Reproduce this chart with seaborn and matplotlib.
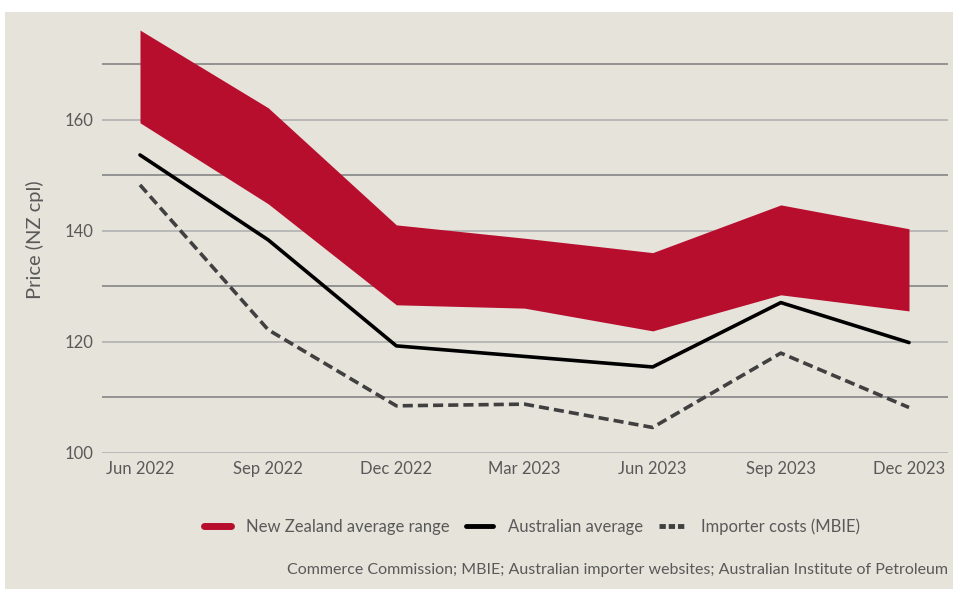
import matplotlib
matplotlib.use("Agg")
import matplotlib.pyplot as plt
import seaborn as sns
import pandas as pd
from matplotlib.lines import Line2D
from matplotlib.patches import Rectangle
from matplotlib.ticker import MultipleLocator

# --- data ---
quarters = ["Jun 2022", "Sep 2022", "Dec 2022", "Mar 2023", "Jun 2023", "Sep 2023", "Dec 2023"]
nz_upper = [176.2, 162.2, 141.1, 138.7, 136.1, 144.7, 140.4]
nz_lower = [159.5, 144.9, 126.7, 126.1, 122.0, 128.5, 125.6]
aus_avg = [153.7, 138.4, 119.3, 117.4, 115.5, 127.1, 119.9]
importer = [148.3, 122.2, 108.5, 108.8, 104.6, 118.0, 108.2]

RED = "#B70E2E"
BG = "#E6E3DB"
TXT = "#595959"

df = pd.DataFrame({
    "pos": range(len(quarters)),
    "quarter": quarters,
    "nz_upper": nz_upper,
    "nz_lower": nz_lower,
    "aus": aus_avg,
    "importer": importer,
})

sns.set_theme(style="white")
plt.rcParams["font.family"] = ["Lato", "DejaVu Sans"]

fig = plt.figure(figsize=(9.54, 5.89), dpi=100, facecolor="white")
# beige panel behind everything (top strip stays white)
fig.patches.append(Rectangle((5 / 954, 0), 1, 1 - 12 / 589, transform=fig.transFigure,
                             facecolor=BG, edgecolor="none", zorder=-10))
ax = fig.add_axes([102 / 954, 0.2309, 1 - 102 / 954 - 6 / 954, 0.9565 - 0.2309])
ax.patch.set_alpha(0)

# band for NZ range
ax.fill_between(df["pos"], df["nz_lower"], df["nz_upper"], color=RED, linewidth=0, zorder=3)
sns.lineplot(data=df, x="pos", y="aus", ax=ax, color="black", linewidth=2.6, zorder=4)
sns.lineplot(data=df, x="pos", y="importer", ax=ax, color="#404040", linewidth=2.6,
             linestyle=(0, (2.8, 1.4)), zorder=4)

ax.set_xlim(-38 / 128.2, 6 + 39 / 128.2)
ax.set_ylim(100, 177)
ax.yaxis.set_major_locator(MultipleLocator(20))
ax.yaxis.set_minor_locator(MultipleLocator(10))
ax.grid(which="major", axis="y", color="#B5B5B5", linewidth=1.3, zorder=1)
ax.grid(which="minor", axis="y", color="#8C8C8C", linewidth=1.3, zorder=1)
ax.set_xticks(df["pos"])
ax.set_xticklabels(quarters)
ax.tick_params(axis="both", which="both", length=0, colors=TXT, labelsize=12)
ax.tick_params(axis="x", pad=6)
ax.tick_params(axis="y", pad=6)
for s in ax.spines.values():
    s.set_visible(False)
ax.set_xlabel("")
ax.set_ylabel("Price (NZ cpl)", color=TXT, fontsize=14.5, labelpad=15)

handles = [
    Line2D([], [], color=RED, linewidth=5),
    Line2D([], [], color="black", linewidth=3.5),
    Line2D([], [], color="#404040", linewidth=3.5, linestyle=(0, (1.3, 0.6))),
]
labels = ["New Zealand average range", "Australian average", "Importer costs (MBIE)"]
fig.legend(handles, labels, loc="center", bbox_to_anchor=(532 / 954, 1 - 527 / 589), ncol=3,
           frameon=False, fontsize=12, labelcolor=TXT, handlelength=1.6, columnspacing=1.0,
           handletextpad=0.9)

fig.text(948 / 954, 1 - 570 / 589,
         "Commerce Commission; MBIE; Australian importer websites; Australian Institute of Petroleum",
         ha="right", va="center", color=TXT, fontsize=11.5)

fig.savefig("out.png", dpi=100, facecolor="white")
